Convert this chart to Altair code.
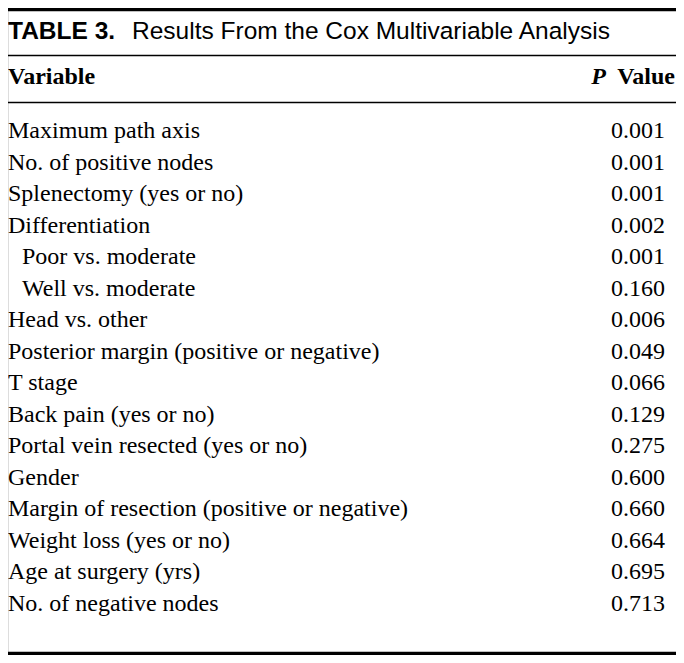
import altair as alt
import pandas as pd

title_label = "TABLE 3."
title_text = "Results From the Cox Multivariable Analysis"
header_left = "Variable"
header_p = "P"
header_value = "Value"

variables = [
    "Maximum path axis",
    "No. of positive nodes",
    "Splenectomy (yes or no)",
    "Differentiation",
    "Poor vs. moderate",
    "Well vs. moderate",
    "Head vs. other",
    "Posterior margin (positive or negative)",
    "T stage",
    "Back pain (yes or no)",
    "Portal vein resected (yes or no)",
    "Gender",
    "Margin of resection (positive or negative)",
    "Weight loss (yes or no)",
    "Age at surgery (yrs)",
    "No. of negative nodes",
]
p_values = ["0.001", "0.001", "0.001", "0.002", "0.001", "0.160", "0.006", "0.049",
            "0.066", "0.129", "0.275", "0.600", "0.660", "0.664", "0.695", "0.713"]
indented = [False, False, False, False, True, True, False, False,
            False, False, False, False, False, False, False, False]

W, H = 668, 647
df = pd.DataFrame({
    "row": list(range(len(variables))),
    "variable": variables,
    "p": p_values,
    "indent": [14 if i else 0 for i in indented],
})

SERIF = "Liberation Serif"
SANS = "Liberation Sans"
FS = 24

yrow = alt.Y("row:Q", axis=None, scale=alt.Scale(domain=[0, len(variables) - 1], range=[123, 596]))
xpos = alt.X("indent:Q", axis=None, scale=alt.Scale(domain=[0, W], range=[0, W]))

base = alt.Chart(df)
var_text = base.mark_text(align="left", baseline="middle", font=SERIF, fontSize=FS, color="black").encode(
    x=xpos, y=yrow, text="variable:N")
val_text = base.mark_text(align="right", baseline="middle", font=SERIF, fontSize=FS, color="black").encode(
    x=alt.value(657), y=yrow, text="p:N")

one = pd.DataFrame({"a": [0]})
oc = alt.Chart(one)

def rule(y, w):
    return oc.mark_rule(color="black", strokeWidth=w).encode(
        x=alt.value(0), x2=alt.value(W), y=alt.value(y))

rules = [rule(1.6, 3.2), rule(47.5, 1.6), rule(94.5, 1.6), rule(645.4, 3.2)]

t1 = oc.mark_text(align="left", baseline="middle", font="Liberation Sans Narrow, Liberation Sans",
                  fontWeight="bold", fontSize=24.5, color="black").encode(
    x=alt.value(0), y=alt.value(23.5), text=alt.value(title_label))
t2 = oc.mark_text(align="left", baseline="middle", font=SANS, fontSize=24.5, color="black").encode(
    x=alt.value(124), y=alt.value(23.5), text=alt.value(title_text))
h1 = oc.mark_text(align="left", baseline="middle", font=SERIF, fontWeight="bold", fontSize=FS, color="black").encode(
    x=alt.value(0), y=alt.value(69), text=alt.value(header_left))
h2 = oc.mark_text(align="right", baseline="middle", font=SERIF, fontWeight="bold", fontSize=FS, color="black").encode(
    x=alt.value(667), y=alt.value(69), text=alt.value(header_value))
h3 = oc.mark_text(align="right", baseline="middle", font=SERIF, fontWeight="bold", fontStyle="italic",
                  fontSize=FS, color="black").encode(
    x=alt.value(598), y=alt.value(69), text=alt.value(header_p))

chart = alt.layer(var_text, val_text, *rules, t1, t2, h1, h2, h3).resolve_scale(
    x="independent", y="independent"
).properties(
    width=W, height=H, padding=0, autosize=alt.AutoSizeParams(type="none")
).configure_view(stroke=None).configure(background="white")

chart.save("out.html", embed_options={"renderer": "svg", "actions": False})
